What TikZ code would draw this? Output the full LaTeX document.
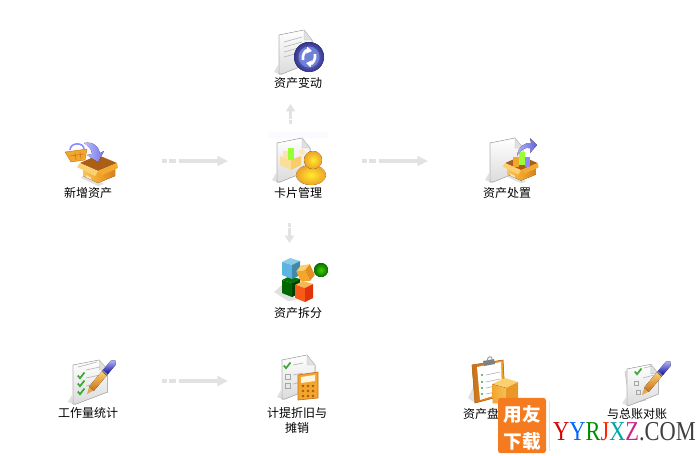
\documentclass[tikz,border=0pt]{standalone}
\usepackage{fontspec}
\newfontfamily\cjk{Noto Sans CJK SC}
\setmainfont{Liberation Serif}
\usetikzlibrary{arrows.meta}
\definecolor{garrowc}{HTML}{E2E2E2}
\definecolor{boxo}{HTML}{F2A62B}
\definecolor{boxd}{HTML}{C9701A}
\definecolor{boxl}{HTML}{FBD070}
\definecolor{wmark}{HTML}{F47B20}
\definecolor{checkg}{HTML}{3DAA35}
\definecolor{skyb}{HTML}{5BB5E0}
\definecolor{bluev}{HTML}{6F80D8}
\tikzstyle{lbl}=[font=\cjk\fontsize{9pt}{11.25pt}\selectfont, align=center, inner sep=0pt]
\tikzstyle{garrow}=[draw=garrowc, line width=2.4pt, -{Triangle[length=8pt,width=7.5pt]}, dash pattern=on 3.5pt off 1.8pt on 5pt off 2.6pt on 60pt]
\tikzstyle{garrowv}=[draw=garrowc, line width=2.2pt, -{Triangle[length=5.5pt,width=6.8pt]}, dash pattern=on 1.2pt off .6pt on 1.2pt off .6pt on 30pt]
\tikzstyle{rowline}=[draw=black!28, line width=.5pt]
\tikzstyle{softshadow}=[fill=black!22, draw=none, opacity=.55]
\tikzset{
  pics/docpage/.style={code={
    \fill[softshadow] (0,39) -- (-5,37) -- (-1,30) -- cycle;
    \filldraw[draw=black!30, line width=.4pt, top color=white, bottom color=black!14]
      (0,0) -- (25,-5) -- (33,5) -- (33,27) -- (3,39) -- (0,39) -- cycle;
    \filldraw[draw=black!25, line width=.3pt, fill=black!12] (25,-5) -- (33,5) -- (25,5) -- cycle;
  }},
  pics/cardbox/.style={code={
    \fill[softshadow] (-17,23) -- (0,31) -- (6,29) -- (-12,18) -- cycle;
    \fill[boxd!85!black] (-18,8) -- (0,0) -- (19,8) -- (0,16) -- cycle;
    \fill[left color=boxl!70!boxo, right color=boxo] (-15,10) -- (0,17) -- (0,28) -- (-15,21) -- cycle;
    \fill[left color=boxo, right color=boxd!70!boxo] (0,17) -- (17,10) -- (17,21) -- (0,28) -- cycle;
    \fill[boxl] (-18,8) -- (0,16) -- (-3,21) -- (-21,12) -- cycle;
    \fill[boxo!90!boxl] (19,8) -- (0,16) -- (4,20) -- (20,13) -- cycle;
    \fill[white!70!boxo] (-12,20) -- (-7,22.5) -- (-7,24.5) -- (-12,22) -- cycle;
  }},
  pics/bluebend/.style={code={
    \fill[left color=blue!25!white, right color=blue!50!white!90!black]
      (0,0) .. controls (9,-2) and (15,4) .. (16,10) -- (20,8) -- (14,19) -- (3,12) -- (8,11)
      .. controls (8,6) and (4,3) .. (0,0) -- cycle;
  }},
  pics/writepen/.style={code={
    \fill[boxl!50!brown] (0,0) -- (7,-3) -- (7,3) -- cycle;
    \fill[top color=boxl, bottom color=boxd] (7,-3.2) -- (27,-3.2) -- (27,3.2) -- (7,3.2) -- cycle;
    \fill[top color=blue!30!white, bottom color=blue!55!black] (27,-3.2) -- (41,-3.2) -- (44,0) -- (41,3.2) -- (27,3.2) -- cycle;
    \fill[black!45] (27,-3.2) rectangle (28.5,3.2);
  }},
  pics/okmark/.style={code={
    \draw[checkg, line width=1.3pt] (-3.2,-.5) -- (-1,2.2) -- (3.5,-3.5);
  }},
  pics/cubeone/.style n args={3}{code={
    \fill[#1] (-9,-5) -- (-1,-9) -- (9,-6) -- (1,-2) -- cycle;
    \fill[#2] (-9,-5) -- (1,-2) -- (1,12) -- (-9,8) -- cycle;
    \fill[#3] (1,-2) -- (9,-6) -- (9,8) -- (1,12) -- cycle;
  }}
}
\begin{document}
\begin{tikzpicture}[x=.75pt, y=-.75pt]
\useasboundingbox (0,0) rectangle (696,455);

% icon: add asset
\filldraw[draw=boxd, line width=.3pt, fill=boxo] (65,152) -- (87,149) -- (85,160) -- (71,162) -- cycle;
\draw[blue!45!white, line width=1.2pt] (70,150) .. controls (70,142) and (84,142) .. (84,149);
\draw[boxd, line width=.4pt] (70,156) -- (84,154) (75,153) -- (76,160) (80,152) -- (81,159);
\pic at (98,155) {cardbox};
\pic at (84,143) {bluebend};

% icon: asset change
\pic at (279,35) {docpage};
\foreach \ya in {42,47,52,57}
  \draw[rowline] (284,\ya) -- (302,\ya-5);
\fill[inner color=bluev!80!white, outer color=blue!45!black!80] (309,57) circle (15);
\fill[bluev] (309,57) circle (10.5);
\draw[white, line width=2pt, -{Triangle[length=4pt,width=5pt]}] (303,60) .. controls (302,54) and (306,50) .. (312,51);
\draw[white, line width=2pt, -{Triangle[length=4pt,width=5pt]}] (315,54) .. controls (316,60) and (312,64) .. (306,63);

% icon: card management
\fill[blue!2] (268,132) rectangle (328,138);
\pic at (277,143) {docpage};
\fill[boxl!70!white] (280,156) -- (291,160) -- (291,170) -- (280,165) -- cycle;
\fill[boxl!90!boxo] (291,160) -- (301,156) -- (301,165) -- (291,170) -- cycle;
\fill[green!50!yellow!80!white] (288,148) rectangle (294,160);
\fill[boxl!60!white] (283,151) rectangle (288,158);
\fill[boxl!50!white] (302,152) circle (3);
\fill[inner color=yellow!60!boxl, outer color=boxo!90!boxd] (311,175) ellipse (15 and 10);
\fill[inner color=yellow!60!boxl, outer color=boxo!90!boxd] (313,160) circle (9);

% icon: asset disposal
\pic at (490,143) {docpage};
\pic[scale=.88] at (521,156) {cardbox};
\fill[boxo] (513,157) rectangle (519,167);
\fill[green!50!yellow!80!white] (519,152) rectangle (525,165);
\fill[blue!45!white] (525,157) rectangle (530,167);
\fill[left color=blue!30!white, right color=blue!55!white!85!black]
  (517,156) .. controls (518,146) and (526,142) .. (531,143) -- (530,138) -- (537,145) -- (530,153) -- (530,148)
  .. controls (525,147) and (520,150) .. (517,156) -- cycle;

% icon: asset split
\fill[softshadow] (274,292) -- (284,283) -- (296,300) -- (288,301) -- cycle;
\pic at (291,285) {cubeone={green!45!black}{green!40!black}{green!25!black}};
\pic at (291,267) {cubeone={skyb!70!white}{skyb}{skyb!75!black}};
\pic at (304,290) {cubeone={boxo!80!white}{red!45!boxo}{red!65!boxo!90!black}};
\pic[scale=.85, rotate=25] at (305,272) {cubeone={boxl}{boxo}{boxd!40!boxo}};
\fill[inner color=green!65!yellow!80!black, outer color=green!45!black] (321,270) circle (7);

% icon: workload statistics
\pic[xscale=1.05] at (73,365) {docpage};
\foreach \ya in {370,378,386}
  \draw[rowline] (86,\ya) -- (100,\ya-3);
\draw[rowline] (78,367) -- (97,362);
\pic at (81,376) {okmark};
\pic at (81,384) {okmark};
\pic at (81,392) {okmark};
\pic[rotate=50] at (87,394) {writepen};

% icon: depreciation
\pic at (282,360) {docpage};
\pic at (287,366) {okmark};
\draw[black!35, line width=.5pt] (285,374) rectangle (290,379) (285,383) rectangle (290,388);
\draw[rowline] (293,365) -- (303,363) (293,375) -- (303,373) (293,384) -- (298,383);
\filldraw[draw=boxd, line width=.5pt, fill=boxo] (298,375) -- (318,372) -- (318,398) -- (298,400) -- cycle;
\fill[white!80!boxl] (301,377) -- (315,375) -- (315,381) -- (301,383) -- cycle;
\foreach \cx in {303,308,313}
  \foreach \cy in {386,391,396}
    \fill[boxd!80!black] (\cx,\cy) circle (1.3);

% icon: inventory
\fill[softshadow] (475,403) -- (468,398) -- (474,385) -- cycle;
\filldraw[draw=boxd, line width=.5pt, left color=boxd, right color=boxo] (472,365) -- (503,360) -- (505,395) -- (475,403) -- cycle;
\fill[white] (477,367) -- (501,362) -- (502,393) -- (480,400) -- cycle;
\foreach \ya in {375,382,388,394}{
  \fill[checkg] (482,\ya) circle (1.2);
  \draw[rowline] (486,\ya) -- (500,\ya-3);
}
\fill[black!50] (483,361) -- (494,359) -- (495,364) -- (484,366) -- cycle;
\draw[black!40, line width=.7pt] (487,361) .. controls (487,356) and (493,355) .. (492,360);
\fill[boxl] (492,384) -- (505,378) -- (518,382) -- (506,388) -- cycle;
\fill[left color=boxo, right color=boxl!60!boxo] (492,384) -- (506,388) -- (506,403) -- (493,403) -- cycle;
\fill[boxo!75!boxd] (506,388) -- (518,382) -- (518,398) -- (506,403) -- cycle;

% icon: reconcile with ledger
\filldraw[draw=black!25, line width=.4pt, fill=black!8] (625,372) -- (640,368) -- (646,400) -- (630,404) -- cycle;
\pic[xscale=.95, yscale=.93] at (627,369) {docpage};
\pic at (638,372) {okmark};
\draw[black!35, line width=.5pt] (634,381) rectangle (638,385) (636,390) rectangle (640,394);
\draw[rowline] (644,368) -- (652,366) (643,378) -- (654,375);
\pic[rotate=50] at (642,395) {writepen};

% labels
\node[lbl] (addasset) at (88,193) {新增资产};
\node[lbl] (cardmgr) at (298,193) {卡片管理};
\node[lbl] (change) at (298,83) {资产变动};
\node[lbl] (dispose) at (507,193) {资产处置};
\node[lbl] (split) at (298,313) {资产拆分};
\node[lbl] (workload) at (88,413) {工作量统计};
\node[lbl] (deprec) at (297,420.5) {计提折旧与\\摊销};
\node[lbl] (invent) at (481,414) {资产盘};
\node[lbl] (ledger) at (637,414) {与总账对账};

% connectors
\coordinate (a1s) at (162,161);
\coordinate (a1e) at (228,161);
\coordinate (a2s) at (362,161);
\coordinate (a2e) at (428,161);
\coordinate (a3s) at (162,381);
\coordinate (a3e) at (228,381);
\coordinate (a4s) at (290.5,124);
\coordinate (a4e) at (290.5,104);
\coordinate (a5s) at (289.5,223);
\coordinate (a5e) at (289.5,243);
\draw[garrow] (a1s) -- (a1e);
\draw[garrow] (a2s) -- (a2e);
\draw[garrow] (a3s) -- (a3e);
\draw[garrowv] (a4s) -- (a4e);
\draw[garrowv] (a5s) -- (a5e);

% watermark
\node[fill=wmark, rounded corners=2pt, minimum width=36pt, minimum height=41.5pt, inner sep=0pt] (wbox) at (522,425.5) {};
\node[font=\cjk\bfseries\fontsize{14pt}{14pt}\selectfont, text=white, inner sep=0pt] (wtop) at (522,414) {用友};
\node[font=\cjk\bfseries\fontsize{14pt}{14pt}\selectfont, text=white, inner sep=0pt] (wbot) at (522,441) {下载};
\draw[wmark!25, line width=.8pt] (wbox.north east) ++(3.5,3) -- ++(0,50);
\node[font=\fontsize{20.5pt}{20.5pt}\selectfont, xscale=.82, inner sep=0pt, anchor=base west] (wsite) at (553,440)
  {\textcolor{red!85!black}{Y}\textcolor{blue!60!cyan}{Y}\textcolor{green!55!black}{R}\textcolor{red!70!orange}{J}\textcolor{teal!70!cyan}{X}\textcolor{magenta!85!black}{Z}\textcolor{black!75}{.COM}};
\end{tikzpicture}
\end{document}
